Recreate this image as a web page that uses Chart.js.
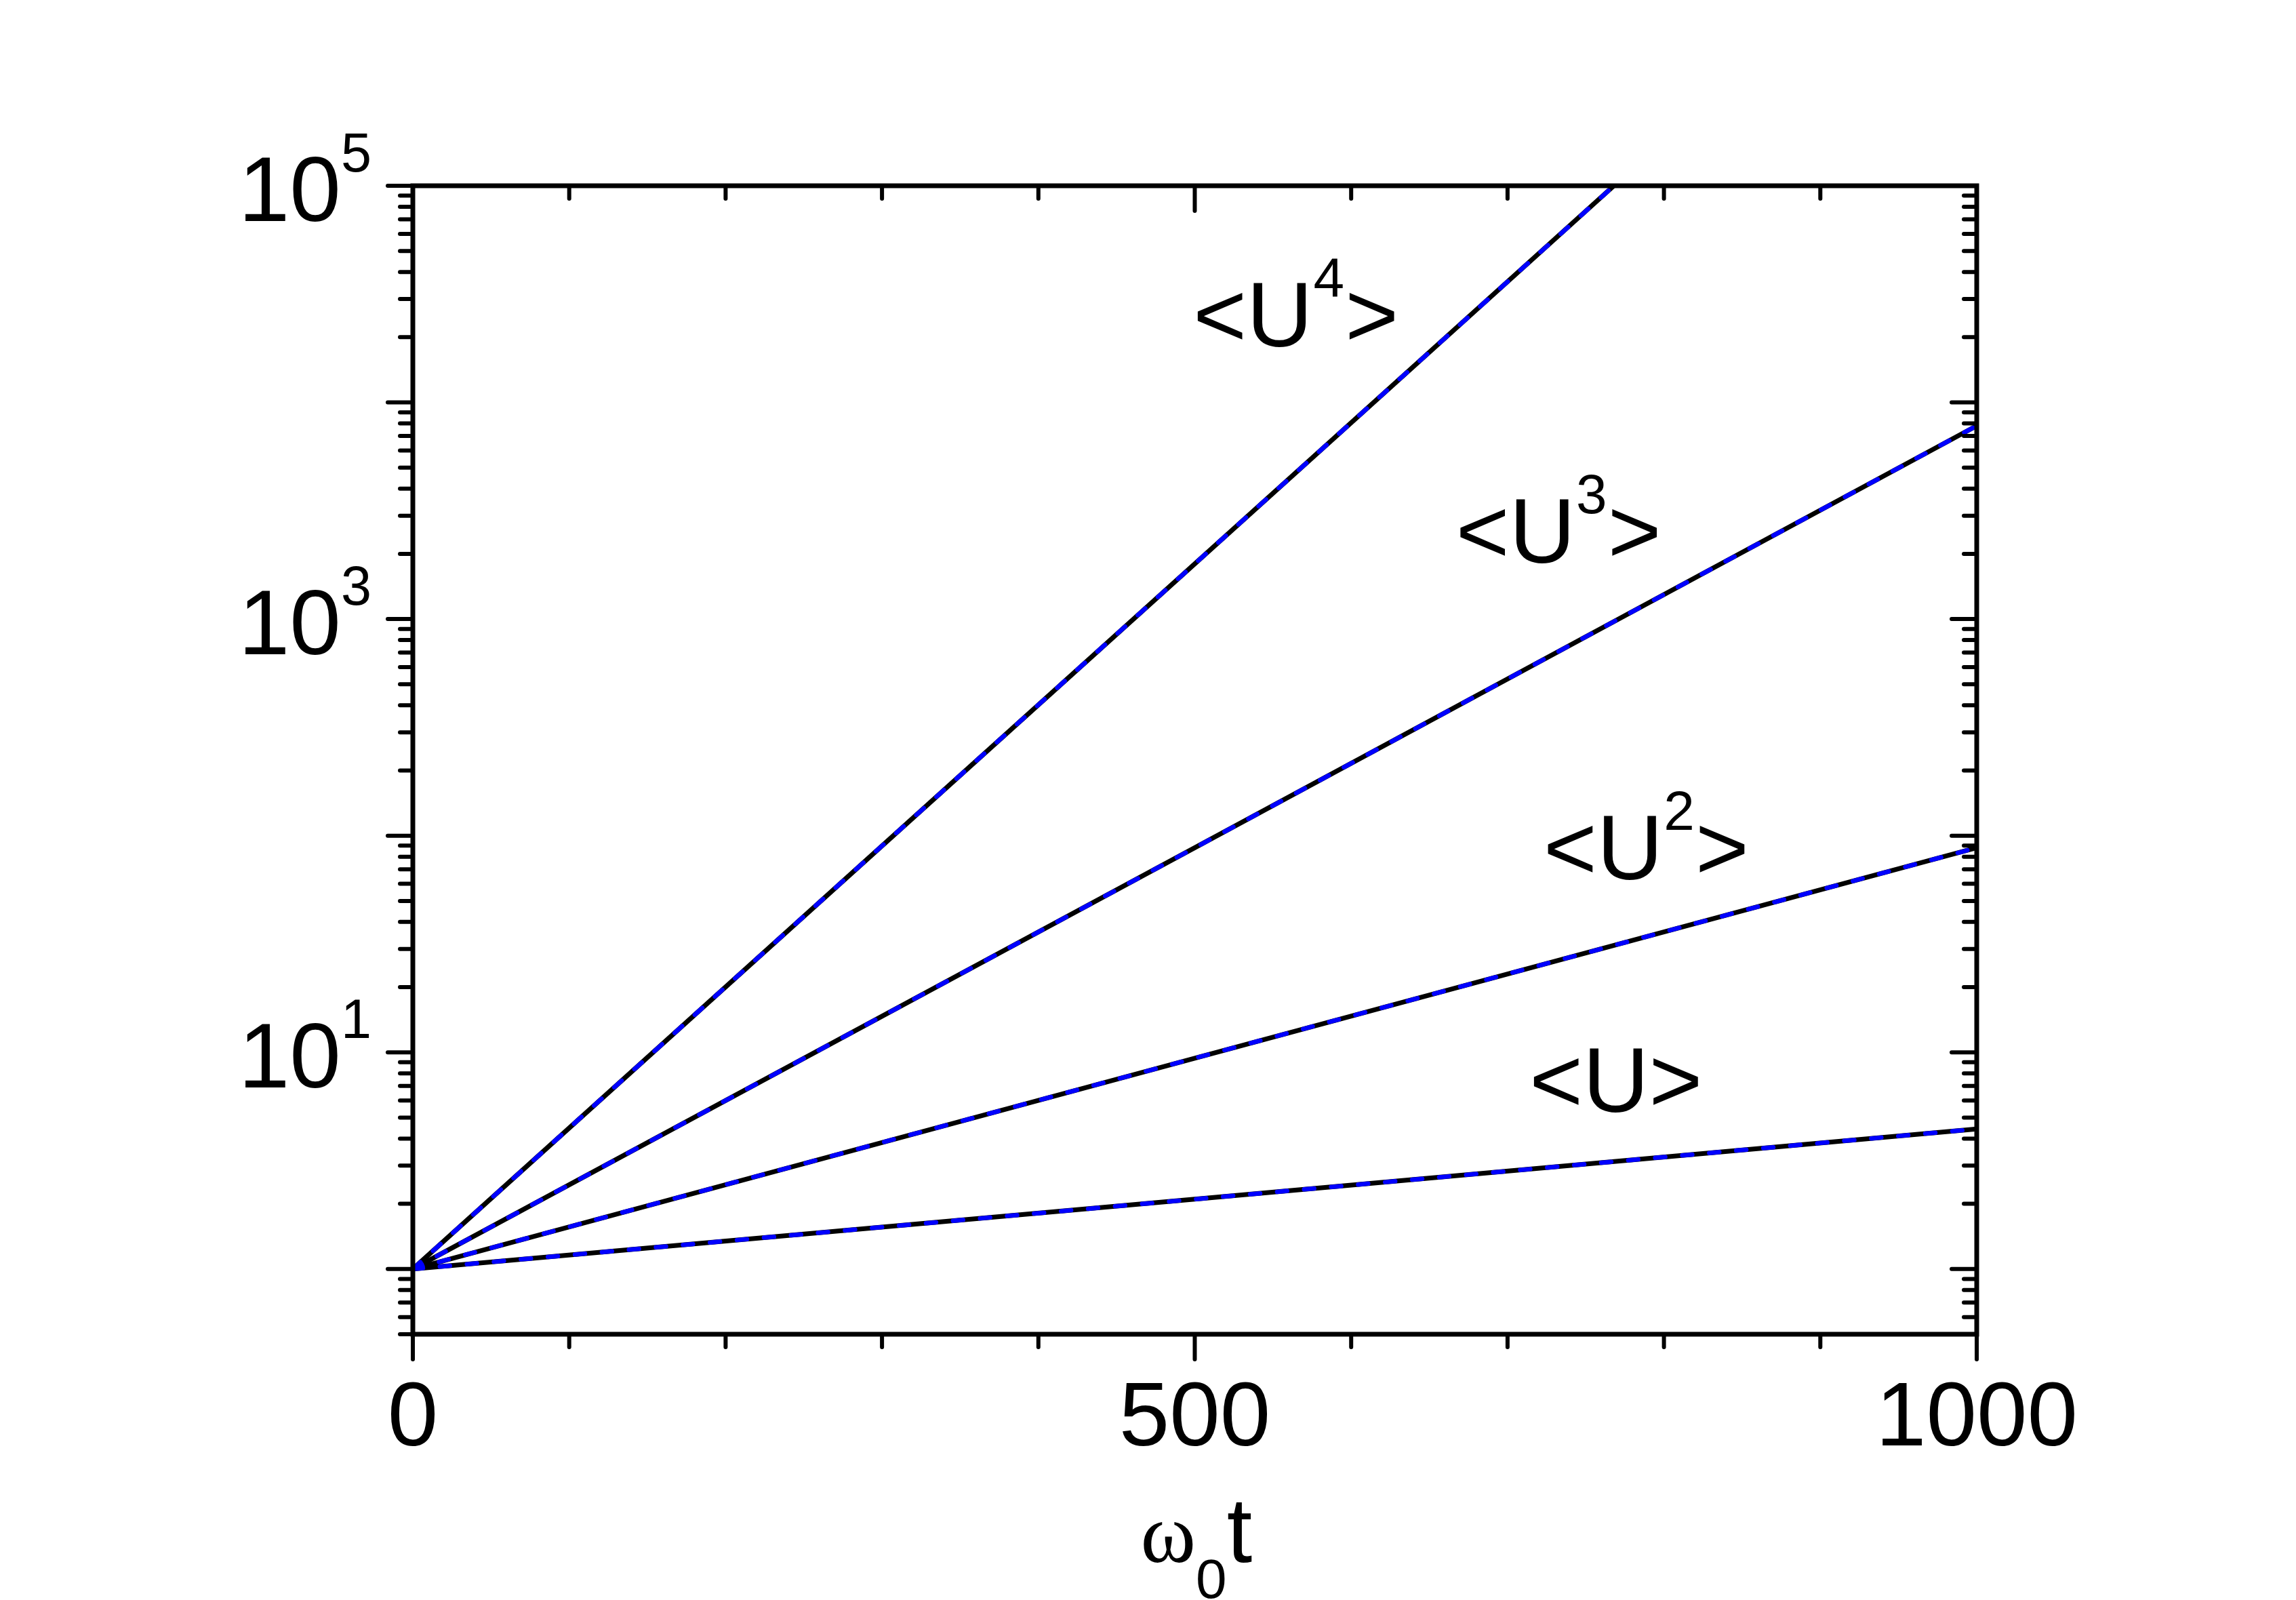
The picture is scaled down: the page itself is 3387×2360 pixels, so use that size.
<!DOCTYPE html>
<html>
<head>
<meta charset="utf-8">
<script src="https://cdn.jsdelivr.net/npm/chart.js@4.4.1/dist/chart.umd.min.js"></script>
<style>
  html, body { margin: 0; padding: 0; background: #ffffff; }
  canvas { display: block; }
</style>
</head>
<body>
<canvas id="c" width="3387" height="2360" style="width:3387px;height:2360px"></canvas>
<script>
// ---------------- data ----------------
const tU1 = [0, 500, 1000];
const vU1 = [1, 2.1, 4.43];
const tU2 = [0, 500, 1000];
const vU2 = [1, 9.4, 88];
const tU3 = [0, 500, 1000];
const vU3 = [1, 88, 7800];
const tU4 = [0, 500, 768];
const vU4 = [1, 1800, 100000];

const seriesPowers = ['', '2', '3', '4'];           // <U>, <U^2>, <U^3>, <U^4>
const labelT = [714, 723, 667, 499];                  // label anchor (x, data units)
const labelV = [5.33, 63, 1820, 18070];               // label baseline (y, data units)

const xRange = [0, 1000];
const yRange = [0.5, 100000];
const xMajorTicks = [0, 500, 1000];
const xTickLabels = ['0', '500', '1000'];
const xMinorTicks = [100, 200, 300, 400, 600, 700, 800, 900];
const yMajorTicks = [1, 10, 100, 1000, 10000, 100000];
const yLabelExponents = [1, 3, 5];
const yMinorMultipliers = [2, 3, 4, 5, 6, 7, 8, 9];
const xTitleParts = ['\u03c9', '0', 't'];

// ---------------- build datasets ----------------
function pts(t, v) { return t.map((tt, i) => ({ x: tt, y: v[i] })); }
const series = [pts(tU1, vU1), pts(tU2, vU2), pts(tU3, vU3), pts(tU4, vU4)];
const datasets = [];
series.forEach((d, i) => {
  datasets.push({
    label: 'U' + seriesPowers[i] + ' black', data: d,
    borderColor: '#000000', borderWidth: 7, pointRadius: 0, tension: 0,
    fill: false, order: 2
  });
  datasets.push({
    label: 'U' + seriesPowers[i] + ' blue', data: d,
    borderColor: '#0000ff', borderWidth: 6.5, borderDash: [15, 25],
    borderCapStyle: 'round', pointRadius: 0, tension: 0, fill: false, order: 1
  });
});

const SANS = '"Liberation Sans", Arial, sans-serif';
const SERIF = '"Liberation Serif", "Times New Roman", serif';

const frame = {
  id: 'frame',
  afterDatasetsDraw(chart) {
    const { ctx, chartArea: a, scales: { x, y } } = chart;
    ctx.save();
    ctx.strokeStyle = '#000';
    ctx.fillStyle = '#000';
    // ticks
    ctx.lineWidth = 6;
    ctx.lineCap = 'round';
    const MAJ = 37, MIN = 19;
    function vt(px, len) {
      ctx.beginPath(); ctx.moveTo(px, a.bottom); ctx.lineTo(px, a.bottom + len); ctx.stroke();
      ctx.beginPath(); ctx.moveTo(px, a.top); ctx.lineTo(px, a.top + len); ctx.stroke();
    }
    function ht(py, len) {
      ctx.beginPath(); ctx.moveTo(a.left, py); ctx.lineTo(a.left - len, py); ctx.stroke();
      ctx.beginPath(); ctx.moveTo(a.right, py); ctx.lineTo(a.right - len, py); ctx.stroke();
    }
    xMajorTicks.forEach(v => vt(x.getPixelForValue(v), MAJ));
    xMinorTicks.forEach(v => vt(x.getPixelForValue(v), MIN));
    yMajorTicks.forEach(v => ht(y.getPixelForValue(v), MAJ));
    for (let k = -1; k <= 4; k++) {
      yMinorMultipliers.forEach(m => {
        const v = m * Math.pow(10, k);
        if (v >= yRange[0] - 1e-9 && v <= yRange[1]) ht(y.getPixelForValue(v), MIN);
      });
    }
    // frame
    ctx.lineCap = 'butt';
    ctx.lineJoin = 'miter';
    ctx.lineWidth = 7;
    ctx.strokeRect(a.left, a.top, a.right - a.left, a.bottom - a.top);

    // x tick labels
    ctx.font = '134px ' + SANS;
    ctx.textAlign = 'center';
    ctx.textBaseline = 'alphabetic';
    xMajorTicks.forEach((v, i) => {
      ctx.fillText(xTickLabels[i], x.getPixelForValue(v), a.bottom + 164);
    });
    // y tick labels 10^n
    yLabelExponents.forEach(e => {
      const py = y.getPixelForValue(Math.pow(10, e));
      const rx = a.left - 106;
      ctx.font = '136px ' + SANS;
      ctx.textAlign = 'right';
      ctx.fillText('10', rx, py + 52);
      ctx.font = '81px ' + SANS;
      ctx.textAlign = 'left';
      ctx.fillText(String(e), rx, py - 21);
    });
    // x axis title  ω0t
    const cx = x.getPixelForValue(500);
    ctx.textAlign = 'left';
    ctx.font = '124px ' + SERIF;
    const wW = ctx.measureText(xTitleParts[0]).width;
    ctx.font = '82px ' + SANS;
    const wS = ctx.measureText(xTitleParts[1]).width;
    ctx.font = '135px ' + SANS;
    const wT = ctx.measureText(xTitleParts[2]).width;
    let sx = cx - 80;
    ctx.font = '124px ' + SERIF;
    ctx.fillText(xTitleParts[0], sx, a.bottom + 336);
    sx += wW;
    ctx.font = '82px ' + SANS;
    ctx.fillText(xTitleParts[1], sx, a.bottom + 389);
    sx += wS;
    ctx.font = '135px ' + SANS;
    ctx.fillText(xTitleParts[2], sx, a.bottom + 336);

    // series labels  <U^n>
    seriesPowers.forEach((p, i) => {
      let lx = x.getPixelForValue(labelT[i]);
      const ly = y.getPixelForValue(labelV[i]);
      ctx.textAlign = 'left';
      ctx.font = '135px ' + SANS;
      ctx.fillText('<U', lx, ly);
      lx += ctx.measureText('<U').width;
      if (p) {
        ctx.font = '82px ' + SANS;
        ctx.fillText(p, lx + 1, ly - 73);
        lx += ctx.measureText(p).width + 2;
      }
      ctx.font = '135px ' + SANS;
      ctx.fillText('>', lx, ly);
    });
    ctx.restore();
  }
};

new Chart(document.getElementById('c'), {
  type: 'line',
  data: { datasets },
  options: {
    responsive: false,
    devicePixelRatio: 1,
    animation: false,
    layout: { padding: { left: 609, right: 471, top: 274, bottom: 392 } },
    plugins: { legend: { display: false }, tooltip: { enabled: false } },
    scales: {
      x: { type: 'linear', min: xRange[0], max: xRange[1], display: false },
      y: { type: 'logarithmic', min: yRange[0], max: yRange[1], display: false }
    }
  },
  plugins: [frame]
});
</script>
</body>
</html>
